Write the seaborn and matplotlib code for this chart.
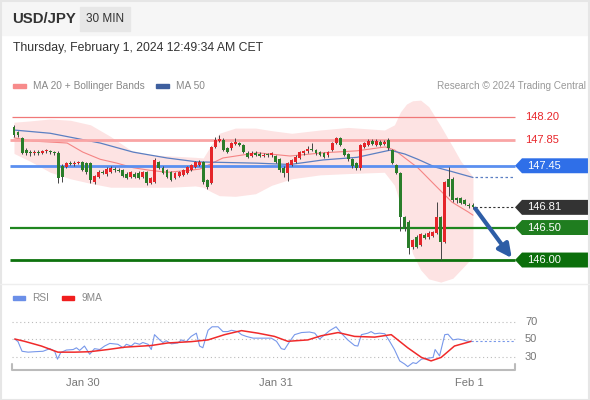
import matplotlib
matplotlib.use("Agg")
import matplotlib.pyplot as plt
import seaborn as sns
from matplotlib.patches import Rectangle, Polygon
from matplotlib.transforms import blended_transform_factory

# 30 min candles, index 0 = Jan 29 15:30 CET
opens = [148.05, 147.97, 147.88, 147.69, 147.66, 147.64, 147.66, 147.65, 147.67, 147.68,
         147.66, 147.65, 147.45, 147.43, 147.50, 147.48, 147.49, 147.51, 147.49, 147.49,
         147.20, 147.28, 147.36, 147.32, 147.36, 147.40, 147.39, 147.38, 147.33, 147.28,
         147.33, 147.34, 147.28, 147.35, 147.19, 147.20, 147.51, 147.42, 147.38, 147.35,
         147.26, 147.29, 147.31, 147.34, 147.39, 147.43, 147.46, 147.51, 147.23, 147.19,
         147.74, 147.83, 147.85, 147.72, 147.72, 147.79, 147.80, 147.77, 147.65, 147.60,
         147.64, 147.63, 147.60, 147.62, 147.61, 147.60, 147.55, 147.42, 147.34, 147.46,
         147.51, 147.57, 147.64, 147.67, 147.71, 147.69, 147.66, 147.64, 147.61, 147.69,
         147.80, 147.88, 147.71, 147.63, 147.55, 147.49, 147.41, 147.74, 147.77, 147.83,
         147.77, 147.82, 147.79, 147.85, 147.69, 147.46, 147.34, 146.66, 146.59, 146.20,
         146.35, 146.23, 146.39, 146.35, 146.37, 146.42, 146.66, 146.28, 147.25, 147.25,
         146.95, 146.95, 146.92, 146.85, 146.85]
highs = [148.08, 147.99, 147.90, 147.72, 147.70, 147.69, 147.69, 147.70, 147.71, 147.70,
         147.68, 147.67, 147.48, 147.51, 147.53, 147.52, 147.53, 147.53, 147.51, 147.51,
         147.31, 147.38, 147.39, 147.43, 147.44, 147.43, 147.42, 147.40, 147.35, 147.37,
         147.36, 147.37, 147.37, 147.37, 147.28, 147.57, 147.53, 147.44, 147.40, 147.37,
         147.36, 147.37, 147.40, 147.45, 147.48, 147.53, 147.54, 147.53, 147.25, 147.76,
         147.90, 147.93, 147.87, 147.74, 147.82, 147.88, 147.82, 147.79, 147.67, 147.67,
         147.67, 147.66, 147.64, 147.65, 147.66, 147.62, 147.57, 147.44, 147.51, 147.56,
         147.61, 147.68, 147.70, 147.76, 147.80, 147.71, 147.68, 147.66, 147.68, 147.82,
         147.90, 147.90, 147.73, 147.65, 147.57, 147.51, 147.79, 147.82, 147.86, 147.86,
         147.86, 147.85, 147.85, 147.87, 147.71, 147.48, 147.36, 146.68, 146.61, 146.33,
         146.38, 146.42, 146.41, 146.44, 146.45, 146.89, 146.68, 147.22, 147.43, 147.27,
         146.97, 146.97, 146.94, 146.88, 146.87]
lows = [147.90, 147.90, 147.63, 147.62, 147.60, 147.61, 147.62, 147.63, 147.64, 147.63,
        147.62, 147.18, 147.20, 147.41, 147.46, 147.45, 147.47, 147.37, 147.33, 147.18,
        147.17, 147.26, 147.32, 147.30, 147.34, 147.36, 147.35, 147.27, 147.24, 147.26,
        147.26, 147.24, 147.26, 147.16, 147.17, 147.18, 147.40, 147.32, 147.26, 147.21,
        147.24, 147.27, 147.29, 147.32, 147.37, 147.41, 147.44, 147.17, 147.09, 147.17,
        147.72, 147.81, 147.67, 147.64, 147.70, 147.77, 147.75, 147.64, 147.57, 147.58,
        147.60, 147.58, 147.58, 147.59, 147.59, 147.49, 147.36, 147.27, 147.22, 147.44,
        147.49, 147.55, 147.62, 147.65, 147.68, 147.62, 147.60, 147.57, 147.59, 147.67,
        147.78, 147.75, 147.60, 147.53, 147.42, 147.39, 147.39, 147.72, 147.75, 147.77,
        147.75, 147.75, 147.77, 147.70, 147.47, 147.32, 146.45, 146.45, 146.10, 146.17,
        146.18, 146.21, 146.32, 146.33, 146.35, 146.40, 146.00, 146.26, 146.98, 146.90,
        146.88, 146.86, 146.84, 146.80, 146.78]
closes = [147.92, 147.92, 147.65, 147.64, 147.64, 147.66, 147.65, 147.67, 147.69, 147.66,
          147.65, 147.26, 147.28, 147.49, 147.48, 147.50, 147.51, 147.39, 147.35, 147.23,
          147.29, 147.36, 147.34, 147.40, 147.41, 147.38, 147.37, 147.29, 147.26, 147.35,
          147.28, 147.26, 147.35, 147.19, 147.26, 147.54, 147.42, 147.34, 147.28, 147.23,
          147.34, 147.35, 147.38, 147.43, 147.46, 147.51, 147.51, 147.20, 147.12, 147.74,
          147.85, 147.86, 147.69, 147.66, 147.80, 147.82, 147.77, 147.66, 147.59, 147.65,
          147.62, 147.60, 147.62, 147.61, 147.64, 147.51, 147.38, 147.34, 147.49, 147.54,
          147.59, 147.66, 147.68, 147.71, 147.69, 147.64, 147.62, 147.59, 147.66, 147.80,
          147.88, 147.77, 147.62, 147.55, 147.44, 147.41, 147.77, 147.80, 147.83, 147.79,
          147.83, 147.77, 147.82, 147.72, 147.49, 147.34, 146.66, 146.51, 146.19, 146.31,
          146.20, 146.40, 146.34, 146.42, 146.43, 146.66, 146.28, 147.20, 147.12, 146.92,
          146.92, 146.88, 146.86, 146.83, 146.81]

# MA 20 + Bollinger bands, MA 50
band_x = [0, 4, 9, 14, 19, 24, 29, 34, 39, 45, 47, 49, 51, 55, 60, 64, 69, 76, 83, 92,
          94.5, 96, 97.5, 99, 101, 103, 106, 109, 111, 114]
band_up = [148.12, 148.14, 148.17, 148.15, 148.08, 147.90, 147.69, 147.62, 147.60, 147.58,
           147.57, 147.77, 147.95, 148.03, 148.03, 147.99, 147.95, 148.00, 148.04, 148.00,
           148.08, 148.28, 148.40, 148.45, 148.46, 148.36, 148.06, 147.74, 147.52, 147.28]
band_lo = [147.64, 147.52, 147.35, 147.25, 147.18, 147.12, 147.12, 147.12, 147.12, 147.14,
           147.12, 147.05, 146.99, 146.98, 147.02, 147.15, 147.25, 147.31, 147.33, 147.35,
           147.15, 146.85, 146.45, 146.10, 145.85, 145.71, 145.66, 145.72, 145.85, 146.05]
ma20_x = [0, 4.7, 13.2, 17.1, 21.4, 25.6, 29.6, 33.8, 38, 43.7, 46.2, 51.9, 60.4, 68.6,
          76.8, 85.2, 92.2, 94.6, 97.1, 100.3, 104.6, 108.8, 112.8, 114]
ma20 = [147.88, 147.83, 147.80, 147.66, 147.55, 147.49, 147.42, 147.38, 147.35, 147.38,
        147.40, 147.57, 147.65, 147.60, 147.65, 147.68, 147.74, 147.69, 147.57, 147.42,
        147.15, 146.89, 146.74, 146.69]
ma50_x = [0, 9, 21.4, 29.6, 38, 45.5, 60.4, 68.6, 76.8, 85.2, 93.4, 97.1, 100.3, 104.6,
          108.8, 114]
ma50 = [148.00, 147.95, 147.80, 147.66, 147.57, 147.51, 147.49, 147.47, 147.54, 147.58,
        147.69, 147.63, 147.55, 147.43, 147.36, 147.27]

# RSI and its 9 period MA
rsi_x = [0.2, 1.0, 2.0, 3.5, 5.1, 7.2, 8.9, 10.1, 10.8, 11.6, 13.0, 14.7, 15.5, 16.3, 17.5,
         18.8, 20.0, 21.3, 22.5, 23.8, 25.8, 27.1, 27.9, 29.1, 30.0, 31.2, 32.0, 33.3, 34.1,
         34.9, 36.2, 37.0, 37.8, 39.1, 40.7, 41.6, 42.8, 44.0, 45.3, 46.1, 46.9, 48.2, 49.2,
         50.7, 51.9, 53.1, 54.0, 55.6, 56.5, 57.7, 59.4, 61.4, 63.9, 65.2, 66.4, 67.2, 68.5,
         69.7, 71.4, 73.4, 74.7, 75.9, 77.2, 78.4, 80.0, 81.3, 82.9, 84.6, 85.4, 86.3, 87.9,
         88.7, 89.6, 90.8, 92.1, 93.3, 94.5, 95.8, 97.0, 97.8, 99.1, 99.9, 101.2, 102.8,
         104.1, 104.6, 105.7, 107.0, 107.8, 109.0, 110.3, 111.5, 112.7, 113.6]
rsi = [50, 47, 36, 35, 35.5, 36, 39, 36, 27, 34.5, 37.4, 38, 40, 37, 42,
       32.6, 39, 38, 42, 45, 44, 40, 44, 42, 45.5, 44, 46, 44, 38,
       55, 49, 46, 48, 44.5, 45.5, 49, 47, 53, 56.7, 42, 40, 60, 64,
       64, 58.5, 58.5, 60, 58.5, 55, 53, 51, 51, 51, 47.4, 39, 38, 47.4,
       55, 57.4, 58, 56.7, 50, 55, 59.6, 64, 56.7, 49, 42.6, 42, 55, 56.7,
       58.5, 56, 56.7, 56, 47.4, 38, 25, 21.5, 18.5, 23, 22, 27, 28,
       29, 38, 30.7, 55, 55.5, 49, 50, 49, 47.4, 47.4]
rsi_ma_x = [0.2, 2.6, 6.8, 10.9, 15.1, 18.8, 23.3, 27.5, 34.1, 38.2, 44.0, 48.2, 52.3, 56.5,
            60.6, 64.7, 68.0, 73.0, 76.3, 80.5, 84.6, 89.6, 93.7, 97.8, 101.2, 103.6, 106.1,
            109.4, 113.6]
rsi_ma = [50, 47.4, 42, 35, 35, 35.5, 38, 40.7, 42.6, 45.5, 47, 49, 55, 59.6,
          56.7, 53, 47.4, 49, 53.7, 57.4, 53, 52.2, 55, 40, 29, 25, 29,
          42, 47.4]

levels_res = [148.20, 147.85]
level_pivot = 147.45
levels_sup = [146.50, 146.00]
target = 146.00

days = [17, 65, 113]
day_labels = ["Jan 30", "Jan 31", "Feb 1"]

sns.set_theme(style="white")
plt.rcParams['font.family'] = ['Liberation Sans', 'DejaVu Sans']

W, H = 590, 400
fig = plt.figure(figsize=(W / 100, H / 100), dpi=100)
fig.patch.set_facecolor("white")

def px(x, y):
    return x / W, 1 - y / H

# header
fig.add_artist(Rectangle((0, 1 - 35 / H), 1, 35 / H, transform=fig.transFigure,
                         color="#f6f6f6", zorder=0))
fig.add_artist(Rectangle(px(80, 31), 50 / W, 24 / H, transform=fig.transFigure,
                         color="#e7e7e7", zorder=1))
fig.text(*px(12, 19), "USD/JPY", fontsize=10.8, fontweight="bold", color="#333", va="center")
fig.text(*px(105, 19), "30 MIN", fontsize=8.5, color="#333", va="center", ha="center")
fig.text(*px(13, 48), "Thursday, February 1, 2024 12:49:34 AM CET", fontsize=8.8,
         color="#333", va="center")
fig.add_artist(Rectangle(px(13, 88), 13 / W, 4 / H, transform=fig.transFigure, color="#f78b8b"))
fig.text(*px(33, 86), "MA 20 + Bollinger Bands", fontsize=7.3, color="#888", va="center")
fig.add_artist(Rectangle(px(156, 88), 13 / W, 4 / H, transform=fig.transFigure, color="#3e5f9e"))
fig.text(*px(176, 86), "MA 50", fontsize=7.3, color="#888", va="center")
fig.text(*px(586, 86), "Research \u00a9 2024 Trading Central", fontsize=7.2, color="#999",
         va="center", ha="right")

# layout in pixels
x_left = (10 - 14) / 4.026
x_right = (590 - 14) / 4.026
x_end = (515 - 14) / 4.026
x_tag = (522 - 14) / 4.026
x_tag_r = (588 - 14) / 4.026
x_txt = (525 - 14) / 4.026

ax = fig.add_axes([10 / W, 116 / H, 580 / W, 192 / H])
ax.set_xlim(x_left, x_right)
ax.set_ylim(145.631, 148.585)
ax.axis("off")

ax.fill_between(band_x, band_lo, band_up, color="#fde3e3", lw=0, zorder=1)
sns.lineplot(x=ma20_x, y=ma20, ax=ax, color="#f58484", lw=0.8, sort=False, estimator=None, zorder=2)
sns.lineplot(x=ma50_x, y=ma50, ax=ax, color="#5b7fc2", lw=0.9, sort=False, estimator=None, zorder=2)
ax.hlines(ma50[-1], ma50_x[-1] + 0.5, x_end, color="#5b7fc2", lw=0.9, linestyles=(0, (2, 2)))

ax.hlines(levels_res[0], x_left + 0.5, x_end, color="#f07878", lw=0.9, zorder=2)
ax.hlines(levels_res[1], x_left, x_end, color="#f9a5a5", lw=2, zorder=2)
ax.hlines(level_pivot, x_left, x_end, color="#5b8ff0", lw=2, zorder=2)
ax.hlines(levels_sup[0], x_left, x_end, color="#1f861f", lw=1.6, zorder=2)
ax.hlines(levels_sup[1], x_left, x_end, color="#0d720d", lw=2, zorder=2)
for lv in levels_res:
    ax.text(x_txt, lv, f"{lv:.2f}", color="#e8262b", fontsize=8, va="center")

# candles
idx = list(range(len(closes)))
ax.vlines(idx, lows, highs, color="#444", lw=0.7, zorder=3)
bottoms = [min(o, c) for o, c in zip(opens, closes)]
heights = [max(abs(c - o), 0.015) for o, c in zip(opens, closes)]
colors = ["#e5252a" if c >= o else "#2a7d2a" for o, c in zip(opens, closes)]
ax.bar(idx, heights, bottom=bottoms, width=0.72, color=colors, lw=0, zorder=4)

last = closes[-1]
ax.hlines(last, idx[-1] + 0.5, x_end, color="#333", lw=0.8, linestyles=(0, (2, 2)))

# price tags
hh = 0.115
for lv, col in [(level_pivot, "#2f6fe8"), (last, "#333333"),
                (levels_sup[0], "#1f7d1f"), (levels_sup[1], "#0b6e0b")]:
    ax.add_patch(Polygon([(x_end, lv), (x_tag, lv + hh), (x_tag_r, lv + hh),
                          (x_tag_r, lv - hh), (x_tag, lv - hh)], closed=True,
                         color=col, lw=0, zorder=5))
    ax.text(x_txt + 0.5, lv, f"{lv:.2f}", color="white", fontsize=8, va="center", zorder=6)

ax.annotate("", xy=(x_end - 0.8, target + 0.03), xytext=(idx[-1] + 0.6, last - 0.02),
            arrowprops=dict(arrowstyle="-|>", color="#2d5da6", lw=3, mutation_scale=20,
                            shrinkA=0, shrinkB=0), zorder=6)

# separators and frame
fig.add_artist(plt.Line2D([0, 1], [1 - 284 / H] * 2, transform=fig.transFigure,
                          color="#eeeeee", lw=1))
fig.add_artist(Rectangle((0.001, 0.001), 0.997, 0.997, transform=fig.transFigure,
                         fill=False, edgecolor="#e6e6e6", lw=1.5))

# RSI panel
fig.add_artist(Rectangle(px(13, 300), 12 / W, 4 / H, transform=fig.transFigure, color="#6b8fe8"))
fig.text(*px(32, 298), "RSI", fontsize=7.3, color="#888", va="center")
fig.add_artist(Rectangle(px(62, 300), 12 / W, 4 / H, transform=fig.transFigure, color="#f01e1e"))
fig.text(*px(81, 298), "9MA", fontsize=7.3, color="#888", va="center")

axr = fig.add_axes([10 / W, 30 / H, 580 / W, 65 / H])
axr.set_xlim(x_left, x_right)
axr.set_ylim(14.6, 88.9)
for s in axr.spines.values():
    s.set_visible(False)
axr.hlines([30, 50, 70], x_left + 0.5, x_end, colors="#bbbbbb", lw=0.8,
           linestyles=(0, (1, 2.5)))
for v in [70, 50, 30]:
    axr.text(x_txt, v, str(v), color="#777", fontsize=8, va="center")
sns.lineplot(x=rsi_x, y=rsi, ax=axr, color="#7898ea", lw=0.8, sort=False, estimator=None)
sns.lineplot(x=rsi_ma_x, y=rsi_ma, ax=axr, color="#f02a2a", lw=1.1, sort=False, estimator=None)
axr.hlines(rsi[-1], rsi_x[-1], x_end, color="#7898ea", lw=0.8, linestyles=(0, (2, 2)))
tr = blended_transform_factory(axr.transData, axr.transAxes)
axr.plot([x_left + 0.5, x_left + 0.5, x_end, x_end], [0.09, 0, 0, 0.09], transform=tr,
         color="#bbbbbb", lw=1.5, clip_on=False)
axr.set_xticks(days, day_labels)
axr.set_yticks([])
axr.tick_params(axis="x", length=0, labelsize=8, colors="#777", pad=6)
axr.set_xlabel("")
axr.set_ylabel("")

fig.savefig("out.png", dpi=100)
